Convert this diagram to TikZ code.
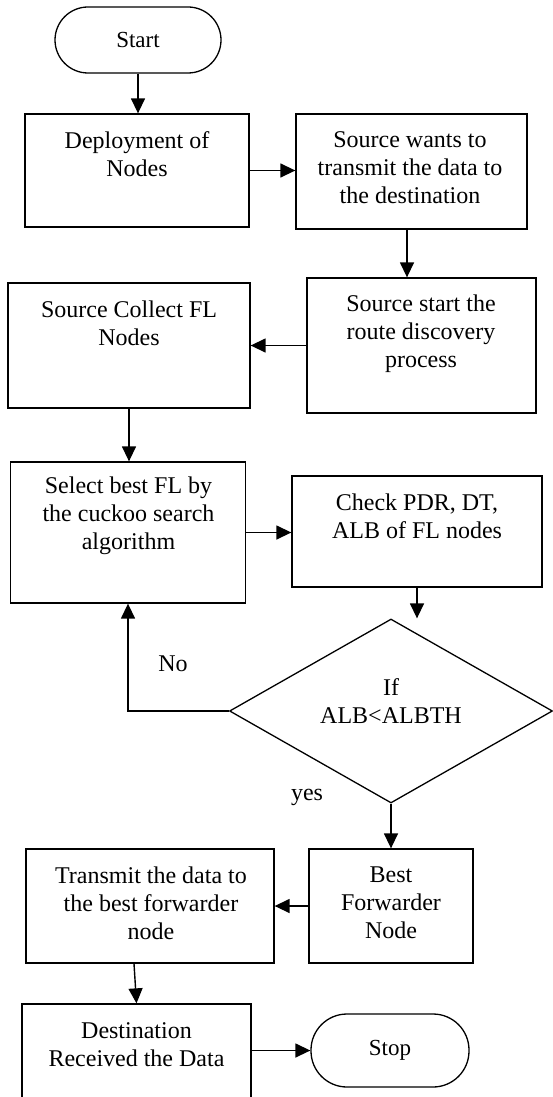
\documentclass[tikz,border=0pt]{standalone}
\usepackage{fontspec}
\setmainfont{Liberation Serif}
\usetikzlibrary{shapes.geometric,arrows.meta,calc}
\begin{document}
\begin{tikzpicture}[x=1pt,y=-1pt,
  box/.style={draw, line width=1.3pt, inner sep=0pt},
  term/.style={draw, line width=1.3pt, inner sep=0pt, font=\fontsize{23}{27}\selectfont},
  txt/.style={align=center, inner sep=0pt, font=\fontsize{24}{28}\selectfont},
  arr/.style={line width=1.4pt, -{Triangle[length=15pt,width=14pt]}}
]
\clip (0,0) rectangle (553,1097);
% shapes
\node[term, rounded corners=33pt, minimum width=166pt, minimum height=66pt] (start) at (138,40) {Start};
\node[box, minimum width=224pt, minimum height=113pt] (dep) at (137,170.5) {};
\node[box, minimum width=231pt, minimum height=115pt] (sw) at (411.5,171.5) {};
\node[box, minimum width=229pt, minimum height=135pt] (ss) at (421.5,345.5) {};
\node[box, minimum width=242pt, minimum height=125pt] (sc) at (129,345.5) {};
\node[box, minimum width=235.5pt, minimum height=141pt] (sel) at (128,532.5) {};
\node[box, minimum width=250pt, minimum height=111pt] (chk) at (417,531.5) {};
\node[box, diamond, minimum width=323pt, minimum height=184pt] (dec) at (391,711) {};
\node[box, minimum width=164pt, minimum height=114pt] (best) at (391,906) {};
\node[box, minimum width=248pt, minimum height=114pt] (tr) at (150,906) {};
\node[box, minimum width=229pt, minimum height=111pt] (dest) at (136.5,1059.5) {};
\node[term, rounded corners=36pt, minimum width=158pt, minimum height=73pt] (stop) at (390,1050.5) {Stop};
% texts
\node[txt] (depT) at (137,154.5) {Deployment of\\Nodes};
\node[txt] (swT) at (410,168) {Source wants to\\transmit the data to\\the destination};
\node[txt] (ssT) at (421,334) {Source start the\\route discovery\\process};
\node[txt] (scT) at (129,323.5) {Source Collect FL\\Nodes};
\node[txt] (selT) at (128.5,516) {Select best FL by\\the cuckoo search\\algorithm};
\node[txt] (chkT) at (417,516) {Check PDR, DT,\\ALB of FL nodes};
\node[txt] (decT) at (391,701) {If\\ALB<ALBTH};
\node[txt] (bestT) at (391,903) {Best\\Forwarder\\Node};
\node[txt] (trT) at (151,903) {Transmit the data to\\the best forwarder\\node};
\node[txt] (destT) at (136.5,1044.5) {Destination\\Received the Data};
\node[txt] (no) at (173,664) {No};
\node[txt] (yes) at (307,797) {yes};
% connectors
\draw[arr] (start.south) -- (start.south |- dep.north);
\draw[arr] (dep.east) -- (dep.east -| sw.west);
\draw[arr] ([xshift=-4.5pt]sw.south) -- ([xshift=-4.5pt]sw.south |- ss.north);
\draw[arr] (ss.west) -- (ss.west -| sc.east);
\draw[arr] (sc.south) -- (sc.south |- sel.north);
\draw[arr] (sel.east) -- (sel.east -| chk.west);
\draw[arr] (chk.south) -- (chk.south |- dec.north);
\draw[arr] (dec.west) -| (sel.south);
\draw[arr] (dec.south) -- (best.north);
\draw[arr] (best.west) -- (tr.east);
\draw[arr] ([xshift=-16pt]tr.south) -- (dest.north);
\draw[arr] (dest.east |- stop.west) -- (stop.west);
\end{tikzpicture}
\end{document}
